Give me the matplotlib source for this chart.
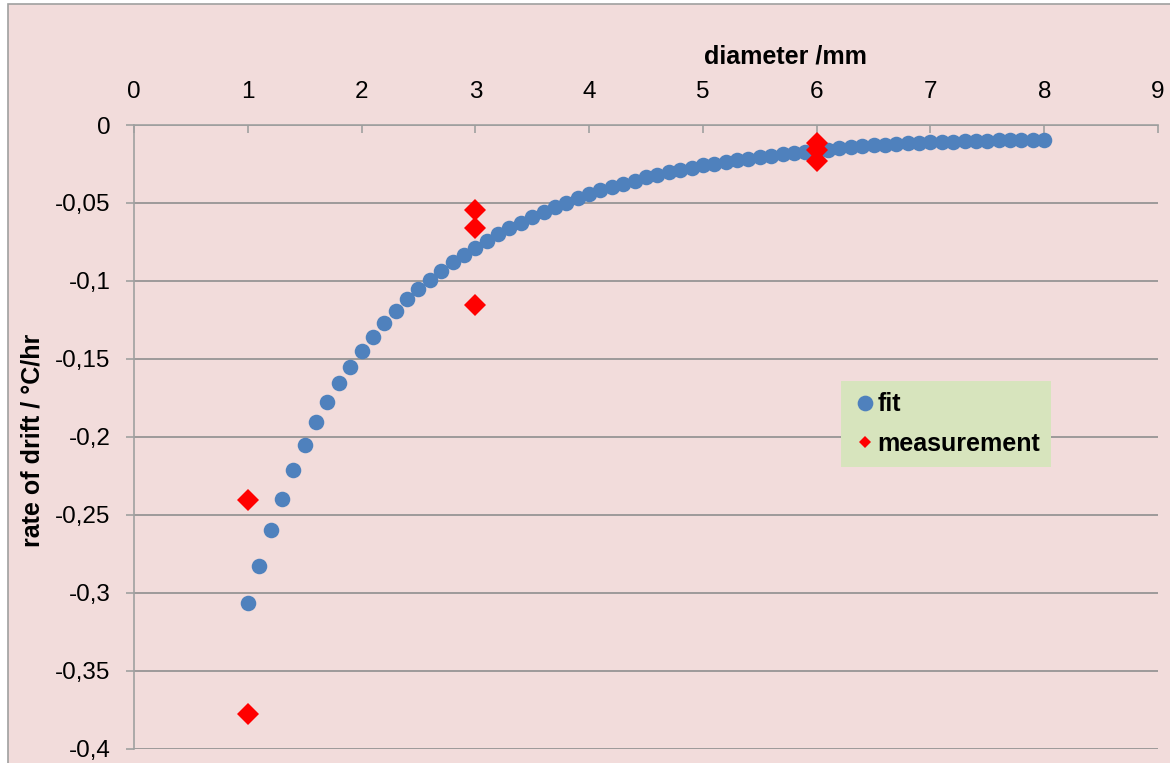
import matplotlib
matplotlib.use('Agg')
import matplotlib.pyplot as plt
from matplotlib.lines import Line2D
from matplotlib.patches import Rectangle
from matplotlib.ticker import FuncFormatter

plt.rcParams['font.family'] = ['Liberation Sans', 'DejaVu Sans']

# fitted curve, diameter 1..8 mm in 0.1 mm steps
fit_d = [round(1.0 + 0.1 * i, 1) for i in range(71)]
fit_rate = [
    -0.3066, -0.2827, -0.2596, -0.2397, -0.2212, -0.2051, -0.1902, -0.1773, -0.1656, -0.1549,
    -0.1450, -0.1357, -0.1270, -0.1190, -0.1117, -0.1053, -0.0994, -0.0934, -0.0880, -0.0833,
    -0.0786, -0.0741, -0.0700, -0.0662, -0.0626, -0.0590, -0.0558, -0.0527, -0.0498, -0.0470,
    -0.0443, -0.0419, -0.0397, -0.0376, -0.0356, -0.0336, -0.0319, -0.0303, -0.0289, -0.0274,
    -0.0259, -0.0247, -0.0236, -0.0225, -0.0215, -0.0206, -0.0197, -0.0189, -0.0181, -0.0174,
    -0.0167, -0.0158, -0.0150, -0.0143, -0.0137, -0.0131, -0.0126, -0.0121, -0.0117, -0.0113,
    -0.0110, -0.0108, -0.0106, -0.0104, -0.0102, -0.0100, -0.0099, -0.0098, -0.0097, -0.0096,
    -0.0095,
]

# measured drift rates
meas_d = [1, 1, 3, 3, 3, 6, 6, 6]
meas_rate = [-0.2404, -0.3775, -0.0545, -0.0658, -0.1156, -0.0116, -0.0160, -0.0231]

x_ticks = [0, 1, 2, 3, 4, 5, 6, 7, 8, 9]
y_ticks = [0, -0.05, -0.1, -0.15, -0.2, -0.25, -0.3, -0.35, -0.4]

pink = '#F2DCDB'
blue = '#4F81BD'
red = '#FF0000'
axis_gray = '#A0A0A0'
grid_gray = '#8F8F8F'

W, H = 1170, 763
fig = plt.figure(figsize=(W / 100, H / 100), dpi=100, facecolor='white')

# chart area background with its thin border
fig.patches.append(Rectangle((7.5 / W, -0.05), 1.2, (H - 3.5) / H + 0.05,
                             transform=fig.transFigure, facecolor=pink,
                             edgecolor=axis_gray, lw=1.2, zorder=-1))

left, right, top, bottom = 134, 1158, 125, 749
ax = fig.add_axes([left / W, 1 - bottom / H, (right - left) / W, (bottom - top) / H])
ax.set_facecolor(pink)

ax.plot(fit_d, fit_rate, ls='none', marker='o', ms=11.2, mew=0, color=blue, zorder=3)
ax.plot(meas_d, meas_rate, ls='none', marker='D', ms=11.7, mew=0, color=red, zorder=4)

ax.set_xlim(0, 9)
ax.set_ylim(-0.4, 0)
ax.set_xticks(x_ticks)
ax.set_yticks(y_ticks)
ax.yaxis.set_major_formatter(FuncFormatter(lambda v, p: ('%g' % round(v, 2)).replace('.', ',')))

ax.grid(axis='y', color=grid_gray, lw=1.2)
ax.set_axisbelow(True)

for s in ['right', 'bottom']:
    ax.spines[s].set_visible(False)
for s in ['left', 'top']:
    ax.spines[s].set_color(axis_gray)
    ax.spines[s].set_linewidth(1.2)

ax.xaxis.tick_top()
ax.tick_params(axis='x', direction='in', length=6, width=1.2, color=axis_gray,
               labelsize=17.5, pad=16)
ax.tick_params(axis='y', direction='out', length=6, width=1.2, color=axis_gray,
               labelsize=17.5, pad=11)

ax.set_xlabel('diameter /mm', fontsize=18, fontweight='bold')
ax.xaxis.set_label_position('top')
ax.xaxis.set_label_coords((785 - left) / (right - left), (bottom - 63) / (bottom - top))
ax.xaxis.label.set_verticalalignment('baseline')

ax.set_ylabel('rate of drift / °C/hr', fontsize=18, fontweight='bold')
ax.yaxis.set_label_coords((33 - left) / (right - left), (bottom - 440) / (bottom - top))
ax.yaxis.label.set_verticalalignment('center')

handles = [
    Line2D([], [], ls='none', marker='o', ms=11.3, mew=0, color=blue),
    Line2D([], [], ls='none', marker='D', ms=6.6, mew=0, color=red),
]
leg = ax.legend(handles, ['fit', 'measurement'], loc='upper left',
                bbox_to_anchor=((841 - left) / (right - left), (bottom - 381) / (bottom - top)),
                borderaxespad=0, frameon=True, fancybox=False, facecolor='#D7E4BD',
                edgecolor='none', framealpha=1, handlelength=1.0, handletextpad=0.0,
                labelspacing=0.62, borderpad=0.45,
                prop={'size': 18, 'weight': 'bold'})

fig.savefig('out.png', dpi=100, facecolor=fig.get_facecolor())
